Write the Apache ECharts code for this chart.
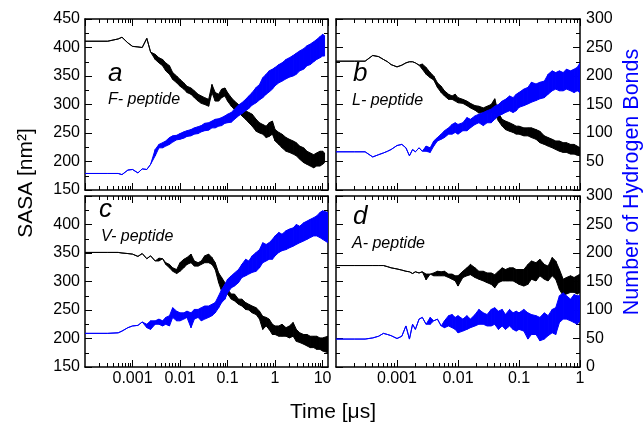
<!DOCTYPE html>
<html><head><meta charset="utf-8">
<script src="https://cdn.jsdelivr.net/npm/echarts@6/dist/echarts.min.js"></script>
<style>html,body{margin:0;padding:0;background:#fff}#c{width:644px;height:426px}</style>
</head><body><div id="c"></div>
<script>
// ---------------- DATA (time in µs; lo/hi = lower/upper edge of the trace) ----------------
const timeA = [0.0001,0.0003,0.0005,0.0006,0.0008,0.001,0.0013,0.0016,0.002,0.0024,0.003,0.0036,0.0043,0.005,0.006,0.007,0.0085,0.01,0.012,0.014,0.017,0.02,0.024,0.028,0.033,0.04,0.047,0.055,0.065,0.075,0.088,0.1,0.12,0.14,0.17,0.2,0.24,0.28,0.33,0.4,0.47,0.55,0.65,0.75,0.88,1,1.2,1.4,1.7,2,2.4,2.8,3.3,4,4.7,5.5,6.5,7.5,8.8,10,11];
const sasaA_lo = [411,411,415,418,408,402,401,400,416,392,379,373,368,359,353,344,338,332,327,321,318,312,306,302,300,297,321,306,306,312,315,306,297,291,286,280,274,268,262,253,250,248,242,244,248,236,230,224,218,216,213,210,204,198,195,192,189,192,192,195,198];
const sasaA_hi = [411,411,415,418,408,402,401,400,416,392,388,382,379,373,368,356,350,344,338,332,329,324,318,315,312,309,335,321,318,327,329,321,312,306,300,294,289,286,283,274,268,265,262,268,271,256,251,248,242,239,236,233,227,224,218,215,212,215,218,218,215];
const hbA_lo = [29,29,29,27,35,36,30,37,36,45,60,74,74,77,80,84,88,89,91,94,95,98,99,102,104,105,109,109,112,113,117,118,119,124,130,134,139,143,149,153,158,162,168,172,177,183,188,191,195,198,200,203,209,212,218,220,225,229,232,235,235];
const hbA_hi = [29,29,29,27,35,36,30,37,36,45,71,80,83,86,92,95,96,99,102,104,106,109,111,113,117,118,121,124,125,127,130,133,136,142,149,153,159,165,171,180,185,197,203,209,212,215,220,223,229,232,236,240,244,248,253,256,260,264,269,273,271];

const timeC = [0.0001,0.0003,0.0005,0.0006,0.0008,0.001,0.0013,0.0016,0.002,0.0024,0.003,0.0036,0.0043,0.005,0.006,0.007,0.0085,0.01,0.012,0.014,0.017,0.02,0.024,0.028,0.033,0.04,0.047,0.055,0.065,0.075,0.088,0.1,0.12,0.14,0.17,0.2,0.24,0.28,0.33,0.4,0.47,0.55,0.65,0.75,0.88,1,1.2,1.4,1.7,2,2.4,2.8,3.3,4,4.7,5.5,6.5,7.5,8.8,10,13];
const sasaC_lo = [351,351,351,350,349,348,344,349,340,345,336,336,340,330,324,318,314,318,324,330,333,327,327,330,333,333,330,321,298,283,280,278,269,266,260,257,251,250,245,242,234,216,222,216,207,207,204,204,204,201,204,195,193,190,187,184,184,181,181,178,175];
const sasaC_hi = [351,351,351,350,349,348,344,349,340,345,336,341,340,333,330,324,321,333,339,342,348,336,333,336,345,348,342,333,315,307,298,286,278,278,269,269,263,260,257,254,248,239,237,234,225,222,222,225,219,222,228,216,210,207,207,204,204,204,201,201,204];
const hbC_lo = [59,59,60,63,69,72,73,79,69,66,75,75,72,75,72,87,81,81,84,87,69,84,87,81,84,87,90,95,104,113,119,130,139,142,148,157,160,163,166,168,174,183,186,189,189,195,201,204,206,209,212,215,218,221,224,227,230,230,227,224,218];
const hbC_hi = [59,59,60,63,69,72,73,79,75,81,81,84,81,87,90,104,98,95,95,98,95,101,101,104,107,107,110,113,125,136,145,154,160,165,171,180,189,186,195,201,206,218,215,218,224,230,236,233,239,242,244,250,247,253,256,259,262,265,271,274,271];

const timeB = [0.0001,0.0002,0.0003,0.0004,0.0005,0.0006,0.0007,0.0008,0.001,0.0012,0.0014,0.0016,0.0018,0.002,0.0023,0.0026,0.003,0.0035,0.004,0.0046,0.0053,0.006,0.007,0.008,0.009,0.01,0.012,0.014,0.016,0.019,0.022,0.026,0.03,0.035,0.04,0.046,0.053,0.06,0.07,0.08,0.09,0.1,0.12,0.14,0.16,0.19,0.22,0.26,0.3,0.35,0.4,0.46,0.53,0.6,0.7,0.8,0.9,1];
const sasaB_lo = [376,376,376,386,384,379,375,370,366,369,373,375,375,373,369,362,353,347,343,330,321,315,309,309,306,303,302,298,294,290,285,286,285,286,285,271,262,256,253,251,248,248,245,245,242,239,233,230,227,224,221,218,216,216,213,213,211,210];
const sasaB_hi = [376,376,376,386,384,379,375,370,366,369,373,375,375,373,369,371,365,356,350,338,332,324,318,315,318,312,309,306,302,298,297,294,297,300,310,285,274,271,268,265,262,262,259,259,259,256,253,245,242,239,236,236,233,233,230,230,227,224];
const hbB_lo = [67,67,67,58,62,65,68,71,78,80,74,60,71,67,74,68,68,66,77,86,89,92,98,98,101,98,104,104,109,115,118,113,118,118,124,130,133,136,139,136,139,145,148,151,154,157,160,162,168,174,177,174,174,177,174,171,174,171];
const hbB_hi = [67,67,67,58,62,65,68,71,78,80,74,60,71,67,74,68,77,74,86,92,98,104,109,115,118,115,118,127,124,130,133,136,139,142,147,150,156,159,165,162,168,171,177,180,189,186,189,191,203,209,206,209,206,212,209,212,215,223];

const timeD = [0.0001,0.0002,0.0003,0.0004,0.0005,0.0006,0.0007,0.0008,0.001,0.0012,0.0014,0.0016,0.0018,0.002,0.0023,0.0026,0.003,0.0035,0.004,0.0046,0.0053,0.006,0.007,0.008,0.009,0.01,0.012,0.014,0.016,0.019,0.022,0.026,0.03,0.035,0.04,0.046,0.053,0.06,0.07,0.08,0.09,0.1,0.12,0.14,0.16,0.19,0.22,0.26,0.3,0.35,0.4,0.46,0.53,0.6,0.7,0.8,0.9,1];
const sasaD_lo = [328,328,328,328,328,328,326,324,322,320,318,317,314,317,315,317,303,313,310,310,310,310,307,304,301,292,307,310,312,307,304,301,298,295,289,298,301,301,301,301,298,295,292,295,304,301,310,304,301,310,304,286,275,278,281,281,278,281];
const sasaD_hi = [328,328,328,328,328,328,326,324,322,320,318,317,314,317,315,317,313,313,315,318,317,318,313,313,310,310,318,324,330,324,318,318,315,315,312,318,324,321,324,324,321,321,321,330,336,333,339,330,327,342,336,321,304,307,310,307,310,313];
const hbD_lo = [49,49,49,51,54,59,57,55,50,54,72,49,75,66,84,87,75,75,81,84,72,69,72,69,66,60,63,66,69,72,75,75,72,72,75,66,72,66,72,66,63,66,63,49,57,57,46,49,55,60,57,78,84,84,81,78,75,81];
const hbD_hi = [49,49,49,51,54,59,57,55,50,54,72,49,75,66,84,87,75,87,81,84,72,81,90,92,87,90,84,90,84,92,101,95,92,101,104,98,101,92,101,95,98,95,101,95,92,90,87,95,90,101,104,125,130,125,119,127,125,125];

const peptideNames = ['F- peptide','L- peptide','V- peptide','A- peptide'];
const panelLetters = ['a','b','c','d'];
const sasaTicks = [150, 450, 50];
const hbTicks = [0, 300, 50];

// ---------------- LAYOUT ----------------
const FONT = '"Liberation Sans", Arial, Helvetica, sans-serif';
const panels = [
  {t: timeA, sLo: sasaA_lo, sHi: sasaA_hi, hLo: hbA_lo, hHi: hbA_hi, left: 85, top: 19, width: 243, xmax: 13, bottomRow: false, leftCol: true},
  {t: timeB, sLo: sasaB_lo, sHi: sasaB_hi, hLo: hbB_lo, hHi: hbB_hi, left: 336, top: 19, width: 244, xmax: 1, bottomRow: false, leftCol: false},
  {t: timeC, sLo: sasaC_lo, sHi: sasaC_hi, hLo: hbC_lo, hHi: hbC_hi, left: 85, top: 196, width: 243, xmax: 13, bottomRow: true, leftCol: true},
  {t: timeD, sLo: sasaD_lo, sHi: sasaD_hi, hLo: hbD_lo, hHi: hbD_hi, left: 336, top: 196, width: 244, xmax: 1, bottomRow: true, leftCol: false}
];
const textPos = [
  {lx: 108, ly: 74, px: 108, py: 100},
  {lx: 353, ly: 74, px: 352, py: 101},
  {lx: 99, ly: 210, px: 101, py: 237},
  {lx: 353, ly: 217, px: 352, py: 244}
];

const BLACK = '#000000', BLUE = '#0000ff';
const lineSty = {color: BLACK, width: 1.5};

function minorVals(xmax) {
  const v = [];
  for (let e = -4; e <= 1; e++) for (let k = 2; k <= 9; k++) {
    const t = k * Math.pow(10, e);
    if (t < xmax * 0.999) v.push(Math.log10(t));
  }
  return v;
}
function fmt(v) { return String(parseFloat(Number(v).toPrecision(3))); }

function bandSeries(g, yIdx, times, lo, hi, color, z) {
  return {
    type: 'custom', coordinateSystem: 'cartesian2d', xAxisIndex: 4 * g, yAxisIndex: yIdx,
    data: times.map((t, i) => [t, lo[i], hi[i]]),
    encode: {x: 0, y: [1, 2]},
    clip: true, silent: true, animation: false, z: z,
    renderItem: function (params, api) {
      const i = params.dataIndexInside;
      const n = params.dataInsideLength;
      if (i >= n - 1) return null;
      const p0 = api.coord([api.value(0, i), api.value(1, i)]);
      const p1 = api.coord([api.value(0, i + 1), api.value(1, i + 1)]);
      const q1 = api.coord([api.value(0, i + 1), api.value(2, i + 1)]);
      const q0 = api.coord([api.value(0, i), api.value(2, i)]);
      return {type: 'polygon', shape: {points: [p0, p1, q1, q0]},
        style: {fill: color, stroke: color, lineWidth: 1, lineJoin: 'round'}};
    }
  };
}

const grid = [], xAxis = [], yAxis = [], series = [], graphic = [];
panels.forEach((p, g) => {
  grid.push({left: p.left, top: p.top, width: p.width, height: 171, containLabel: false});
  const common = {gridIndex: g, splitLine: {show: false}};
  xAxis.push(Object.assign({}, common, {type: 'log', logBase: 10, min: 1e-4, max: p.xmax, position: 'bottom',
    axisLine: {show: true, onZero: false, lineStyle: lineSty},
    axisTick: {show: true, inside: true, length: 7, lineStyle: {color: BLACK, width: 1}},
    axisLabel: {show: p.bottomRow, color: BLACK, fontSize: 16, fontFamily: FONT, margin: 4, showMinLabel: false, showMaxLabel: p.xmax === 1, formatter: fmt}}));
  xAxis.push(Object.assign({}, common, {type: 'log', logBase: 10, min: 1e-4, max: p.xmax, position: 'top',
    axisLine: {show: true, onZero: false, lineStyle: lineSty},
    axisTick: {show: true, inside: true, length: 7, lineStyle: {color: BLACK, width: 1}},
    axisLabel: {show: false}}));
  ['bottom', 'top'].forEach(pos => {
    xAxis.push(Object.assign({}, common, {type: 'value', min: -4, max: Math.log10(p.xmax), position: pos,
      axisLine: {show: false, onZero: false},
      axisTick: {show: true, inside: true, length: 4, customValues: minorVals(p.xmax), lineStyle: {color: BLACK, width: 1}},
      axisLabel: {show: false}}));
  });
  yAxis.push(Object.assign({}, common, {type: 'value', min: sasaTicks[0], max: sasaTicks[1], interval: sasaTicks[2], position: 'left',
    axisLine: {show: true, onZero: false, lineStyle: lineSty},
    axisTick: {show: true, inside: true, length: 7, lineStyle: {color: BLACK, width: 1}},
    minorTick: {show: true, splitNumber: 2, length: 4, lineStyle: {color: BLACK, width: 1}},
    axisLabel: {show: p.leftCol, color: BLACK, fontSize: 16, fontFamily: FONT, margin: 5, showMaxLabel: g === 2 ? false : true, showMinLabel: true}}));
  yAxis.push(Object.assign({}, common, {type: 'value', min: hbTicks[0], max: hbTicks[1], interval: hbTicks[2], position: 'right',
    axisLine: {show: true, onZero: false, lineStyle: lineSty},
    axisTick: {show: true, inside: true, length: 7, lineStyle: {color: BLACK, width: 1}},
    minorTick: {show: true, splitNumber: 2, length: 4, lineStyle: {color: BLACK, width: 1}},
    axisLabel: {show: !p.leftCol, color: BLACK, fontSize: 16, fontFamily: FONT, margin: 6, showMinLabel: g === 1 ? false : true, showMaxLabel: true}}));

  series.push(bandSeries(g, 2 * g, p.t, p.sLo, p.sHi, BLACK, 2));
  series.push(bandSeries(g, 2 * g + 1, p.t, p.hLo, p.hHi, BLUE, 3));

  const tp = textPos[g];
  graphic.push({type: 'text', x: tp.lx, y: tp.ly, style: {text: panelLetters[g], font: 'italic 26px ' + FONT, fill: BLACK, align: 'left', verticalAlign: 'middle', textAlign: 'left', textVerticalAlign: 'middle'}});
  graphic.push({type: 'text', x: tp.px, y: tp.py, style: {text: peptideNames[g], font: 'italic 16px ' + FONT, fill: BLACK, align: 'left', verticalAlign: 'middle', textAlign: 'left', textVerticalAlign: 'middle'}});
});

graphic.push({type: 'text', x: 26, y: 183, rotation: Math.PI / 2, style: {text: 'SASA [nm²]', font: '21px ' + FONT, fill: BLACK, align: 'center', verticalAlign: 'middle', textAlign: 'center', textVerticalAlign: 'middle'}});
graphic.push({type: 'text', x: 632, y: 182, rotation: Math.PI / 2, style: {text: 'Number of Hydrogen Bonds', font: '21.5px ' + FONT, fill: BLUE, align: 'center', verticalAlign: 'middle', textAlign: 'center', textVerticalAlign: 'middle'}});
graphic.push({type: 'text', x: 333, y: 412, style: {text: 'Time [μs]', font: '21px ' + FONT, fill: BLACK, align: 'center', verticalAlign: 'middle', textAlign: 'center', textVerticalAlign: 'middle'}});

const chart = echarts.init(document.getElementById('c'), null, {renderer: 'canvas'});
chart.setOption({backgroundColor: '#ffffff', animation: false, grid, xAxis, yAxis, series, graphic});
</script>
</body></html>
